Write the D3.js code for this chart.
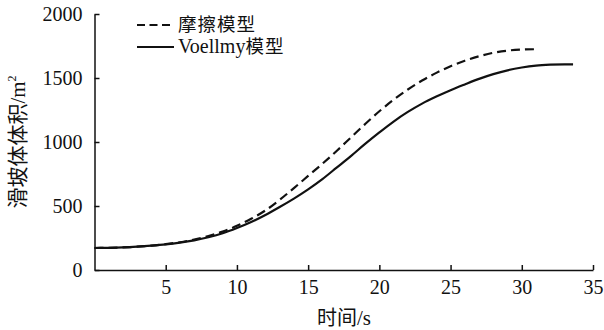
<!DOCTYPE html>
<html>
<head>
<meta charset=utf-8>
<title>滑坡体体积</title>
<style>
body{margin:0; background:#fff;}
.axis path, .axis line{stroke:#111; stroke-width:1.5;}
</style>
</head>
<body>
<div id=chart></div>
<script src="https://cdn.jsdelivr.net/npm/d3@7"></script>
<script>
//time (s) and volume (m^2)
var times = [0,1,2,3,4,5,6,7,8,9,10,11,12,13,14,15,16,17,18,19,20,21,22,23,24,25,26,27,28,29,30,31,32,33,33.6];
var voellmy = [172,173,176,182,190,200,214,232,256,287,328,375,430,492,558,630,710,800,890,985,1075,1160,1235,1300,1355,1405,1450,1493,1530,1560,1582,1597,1604,1607,1607];
var frictionTimes = [0,1,2,3,4,5,6,7,8,9,10,11,12,13,14,15,16,17,18,19,20,21,22,23,24,25,26,27,28,29,30,31];
var friction = [172,173,176,182,191,202,217,238,266,300,345,400,465,548,640,735,830,930,1035,1140,1240,1330,1410,1480,1540,1592,1635,1670,1697,1714,1722,1725];
var xTicks = [5,10,15,20,25,30,35];
var yTicks = [0,500,1000,1500,2000];
var seriesLatin = ['', 'Voellmy'];
var seriesCjk = ['摩擦模型', '模型'];

var serif = '"Liberation Serif", "Times New Roman", serif';
var cjk = '"Noto Sans CJK SC", sans-serif';

var W = 604, H = 330;
var svg = d3.select('#chart').append('svg')
    .attr('width', W)
    .attr('height', H);

var x = d3.scaleLinear().domain([0,35]).range([94.5, 593]);
var y = d3.scaleLinear().domain([0,2000]).range([270, 14]);

//axes, ticks point inward
svg.append('g')
    .attr('class','axis')
    .attr('transform','translate(0,270)')
    .call(d3.axisBottom(x).tickValues(xTicks).tickFormat(d3.format('d')).tickSizeInner(-5).tickSizeOuter(0).tickPadding(10));

svg.append('g')
    .attr('class','axis')
    .attr('transform','translate(94.5,0)')
    .call(d3.axisLeft(y).tickValues(yTicks).tickFormat(d3.format('d')).tickSizeInner(-5).tickSizeOuter(0).tickPadding(12));

svg.selectAll('.axis text')
    .attr('font-size', 20)
    .attr('fill','#111')
    .style('font-family', serif);

//lines
var line = d3.line()
    .x(d => x(d[0]))
    .y(d => y(d[1]))
    .curve(d3.curveMonotoneX);

svg.append('path')
    .datum(frictionTimes.map((t,i) => [t, friction[i]]))
    .attr('fill','none')
    .attr('stroke','#111')
    .attr('stroke-width',2.2)
    .attr('stroke-dasharray','9,5')
    .attr('d', line);

svg.append('path')
    .datum(times.map((t,i) => [t, voellmy[i]]))
    .attr('fill','none')
    .attr('stroke','#111')
    .attr('stroke-width',2.2)
    .attr('d', line);

//legend
var legend = svg.append('g');
seriesCjk.forEach(function(name, i){
  var ly = 25 + i*22;
  legend.append('line')
      .attr('x1',137).attr('x2',174)
      .attr('y1',ly).attr('y2',ly)
      .attr('stroke','#111')
      .attr('stroke-width',2)
      .attr('stroke-dasharray', i === 0 ? '8,4.5' : null);
  var t = legend.append('text')
      .attr('x',178)
      .attr('y',ly+6)
      .attr('font-size',18.5)
      .attr('fill','#111');
  if (seriesLatin[i]) t.append('tspan').style('font-family', serif).attr('font-size',20).text(seriesLatin[i]);
  t.append('tspan').style('font-family', cjk).attr('letter-spacing',1).text(name);
});

//axis titles
var xt = svg.append('text')
    .attr('text-anchor','middle')
    .attr('x',344)
    .attr('y',325)
    .attr('font-size',20)
    .attr('fill','#111');
xt.append('tspan').style('font-family', cjk).text('时间');
xt.append('tspan').style('font-family', serif).attr('font-size',21).text('/s');

var yt = svg.append('text')
    .attr('text-anchor','middle')
    .attr('transform','rotate(-90)')
    .attr('x',-142)
    .attr('y',25)
    .attr('font-size',21)
    .attr('fill','#111');
yt.append('tspan').style('font-family', cjk).text('滑坡体体积');
yt.append('tspan').style('font-family', serif).text('/m');
yt.append('tspan').style('font-family', serif).attr('dy',-9).attr('font-size',12).text('2');
</script>
</body>
</html>
